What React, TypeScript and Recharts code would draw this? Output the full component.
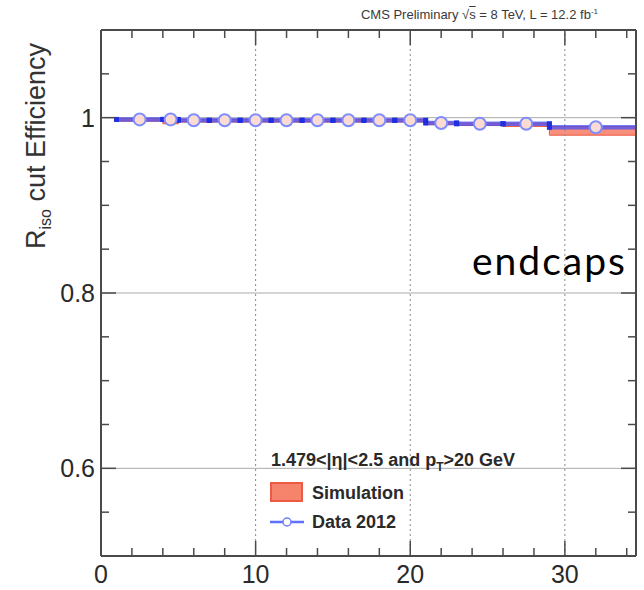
import React from "react";
import {
  ComposedChart,
  Line,
  Scatter,
  ErrorBar,
  XAxis,
  YAxis,
  ReferenceArea,
  ReferenceLine,
} from "recharts";

// bins in pT (GeV)
const binLow = [1, 4, 5, 7, 9, 11, 13, 15, 17, 19, 21, 23, 26, 29];
const binHigh = [4, 5, 7, 9, 11, 13, 15, 17, 19, 21, 23, 26, 29, 35];
const binCenter = [2.5, 4.5, 6, 8, 10, 12, 14, 16, 18, 20, 22, 24.5, 27.5, 32];

// Data 2012
const dataEff = [0.998, 0.998, 0.997, 0.997, 0.997, 0.997, 0.997, 0.997, 0.997, 0.997, 0.994, 0.993, 0.993, 0.989];
const dataErr = [0.001, 0.002, 0.001, 0.001, 0.001, 0.001, 0.001, 0.001, 0.001, 0.001, 0.002, 0.002, 0.002, 0.003];

// Simulation band
const simLo = [0.996, 0.993, 0.995, 0.995, 0.995, 0.995, 0.995, 0.995, 0.995, 0.995, 0.992, 0.991, 0.99, 0.98];
const simHi = [0.999, 0.997, 0.998, 0.998, 0.998, 0.998, 0.998, 0.998, 0.998, 0.998, 0.995, 0.994, 0.994, 0.99];

// axis ticks
const xMajorTicks = [0, 10, 20, 30];
const xTicks = [0, 2, 4, 6, 8, 10, 12, 14, 16, 18, 20, 22, 24, 26, 28, 30, 32, 34];
const yMajorTicks = [0.6, 0.8, 1];
const yTickLabels = ["0.6", "0.8", "1"];
const yTicks = [0.55, 0.6, 0.65, 0.7, 0.75, 0.8, 0.85, 0.9, 0.95, 1, 1.05];

const X_DOMAIN: [number, number] = [0, 34.6];
const Y_DOMAIN: [number, number] = [0.5, 1.1];

const FRAME = "#4a4a4a";
const TXT = "#2a2a2a";
const BLUE = "#3a4cff";
const SIM_FILL = "#f6836c";
const SIM_EDGE = "#ec5a45";
const SANS = '"Liberation Sans", Arial, Helvetica, sans-serif';

const lineData = binLow.flatMap((lo, i) => [
  { x: lo, y: dataEff[i], kind: "edge" },
  { x: binCenter[i], y: dataEff[i], kind: "center" },
  { x: binHigh[i], y: dataEff[i], kind: "edge" },
]);

const pointData = binCenter.map((x, i) => ({ x, y: dataEff[i], err: dataErr[i] }));

const isMajorY = (v: number) => yMajorTicks.findIndex((m) => Math.abs(m - v) < 1e-6);

const BottomTick = (props: any) => {
  const { x, y, payload } = props;
  const major = xMajorTicks.includes(payload.value);
  return (
    <g>
      {payload.value > 0 && (
        <line x1={x} y1={y} x2={x} y2={y - (major ? 15 : 8)} stroke={FRAME} strokeWidth={1.5} />
      )}
      {major && (
        <text x={x} y={y + 18} textAnchor="middle" dominantBaseline="central" fontSize={25} fontFamily={SANS} fill={TXT}>
          {payload.value}
        </text>
      )}
    </g>
  );
};

const TopTick = (props: any) => {
  const { x, y, payload } = props;
  if (payload.value <= 0) return <g />;
  const major = xMajorTicks.includes(payload.value);
  return <line x1={x} y1={y} x2={x} y2={y + (major ? 15 : 8)} stroke={FRAME} strokeWidth={1.5} />;
};

const LeftTick = (props: any) => {
  const { x, y, payload } = props;
  const m = isMajorY(payload.value);
  return (
    <g>
      <line x1={x} y1={y} x2={x + (m >= 0 ? 15 : 8)} y2={y} stroke={FRAME} strokeWidth={1.5} />
      {m >= 0 && (
        <text x={x - 6} y={y} textAnchor="end" dominantBaseline="central" fontSize={25} fontFamily={SANS} fill={TXT}>
          {yTickLabels[m]}
        </text>
      )}
    </g>
  );
};

const RightTick = (props: any) => {
  const { x, y, payload } = props;
  const m = isMajorY(payload.value);
  return <line x1={x} y1={y} x2={x - (m >= 0 ? 15 : 8)} y2={y} stroke={FRAME} strokeWidth={1.5} />;
};

const EdgeDot = (props: any) => {
  const { cx, cy, payload, index } = props;
  if (payload.kind !== "edge" || cx == null) return <g key={index} />;
  return <rect key={index} x={cx - 2.5} y={cy - 2.5} width={5} height={5} fill="#1f2fe0" />;
};

const OpenCircle = (props: any) => {
  const { cx, cy } = props;
  return <circle cx={cx} cy={cy} r={6} fill="#fcdcd2" stroke="#7d8dff" strokeWidth={2} />;
};

export default function App() {
  return (
    <div style={{ position: "absolute", left: 0, top: 0, width: 644, height: 590, background: "#fff", fontFamily: SANS }}>
      <ComposedChart width={644} height={590} margin={{ top: 29, right: 7, bottom: 0, left: 0 }}>
        <XAxis
          type="number"
          dataKey="x"
          domain={X_DOMAIN}
          allowDataOverflow
          ticks={xTicks}
          interval={0}
          height={34}
          tickSize={0}
          tickMargin={0}
          tick={<BottomTick />}
          axisLine={{ stroke: FRAME, strokeWidth: 2 }}
          tickLine={false}
        />
        <XAxis
          xAxisId="t"
          orientation="top"
          type="number"
          dataKey="x"
          domain={X_DOMAIN}
          allowDataOverflow
          ticks={xTicks}
          interval={0}
          height={1}
          tickSize={0}
          tickMargin={0}
          tick={<TopTick />}
          axisLine={{ stroke: FRAME, strokeWidth: 2 }}
          tickLine={false}
        />
        <YAxis
          type="number"
          domain={Y_DOMAIN}
          allowDataOverflow
          ticks={yTicks}
          interval={0}
          width={101}
          tickSize={0}
          tickMargin={0}
          tick={<LeftTick />}
          axisLine={{ stroke: FRAME, strokeWidth: 2 }}
          tickLine={false}
        />
        <YAxis
          yAxisId="r"
          orientation="right"
          type="number"
          domain={Y_DOMAIN}
          allowDataOverflow
          ticks={yTicks}
          interval={0}
          width={1}
          tickSize={0}
          tickMargin={0}
          tick={<RightTick />}
          axisLine={{ stroke: FRAME, strokeWidth: 2 }}
          tickLine={false}
        />

        {yMajorTicks.map((v) => (
          <ReferenceLine key={"gy" + v} y={v} stroke="#aaa" strokeWidth={1} />
        ))}
        {xMajorTicks.slice(1).map((v) => (
          <ReferenceLine key={"gx" + v} x={v} stroke="#888" strokeWidth={1} strokeDasharray="2 3" />
        ))}

        {binLow.map((lo, i) => (
          <ReferenceArea
            key={"sim" + i}
            x1={lo}
            x2={binHigh[i]}
            y1={simLo[i]}
            y2={simHi[i]}
            ifOverflow="hidden"
            fill={SIM_FILL}
            fillOpacity={0.9}
            stroke={SIM_EDGE}
            strokeWidth={1}
          />
        ))}

        {/* invisible copy so the mirrored top/right axes get drawn */}
        <Line
          xAxisId="t"
          yAxisId="r"
          data={lineData}
          dataKey="y"
          stroke="none"
          dot={false}
          activeDot={false}
          legendType="none"
          isAnimationActive={false}
        />
        <Line
          data={lineData}
          dataKey="y"
          type="linear"
          stroke={BLUE}
          strokeOpacity={0.7}
          strokeWidth={4.5}
          dot={<EdgeDot />}
          activeDot={false}
          isAnimationActive={false}
        />
        <Scatter data={pointData} dataKey="y" shape={<OpenCircle />} isAnimationActive={false}>
          <ErrorBar dataKey="err" direction="y" width={0} stroke={BLUE} strokeWidth={2} />
        </Scatter>
      </ComposedChart>

      {/* header */}
      <div style={{ position: "absolute", right: 46, top: 7, fontSize: 13, color: "#3a3a3a", whiteSpace: "nowrap" }}>
        CMS Preliminary √<span style={{ textDecoration: "overline" }}>s</span> = 8 TeV, L = 12.2 fb<sup style={{ fontSize: 8 }}>-1</sup>
      </div>

      {/* y title */}
      <div
        style={{
          position: "absolute",
          left: 38,
          top: 146,
          transform: "translate(-50%, -50%) rotate(-90deg)",
          whiteSpace: "nowrap",
          fontSize: 27,
          color: "#333",
        }}
      >
        R<sub style={{ fontSize: 16 }}>iso</sub> cut Efficiency
      </div>

      {/* region label */}
      <div
        style={{
          position: "absolute",
          left: 472,
          top: 241,
          fontSize: 39,
          lineHeight: 1,
          letterSpacing: 2,
          color: "#000",
          fontFamily: "Lato, sans-serif",
          whiteSpace: "nowrap",
        }}
      >
        endcaps
      </div>

      {/* legend */}
      <div style={{ position: "absolute", left: 271, top: 450, fontSize: 18, fontWeight: "bold", color: TXT, whiteSpace: "nowrap" }}>
        1.479&lt;|η|&lt;2.5 and p<sub style={{ fontSize: 12 }}>T</sub>&gt;20 GeV
      </div>
      <div style={{ position: "absolute", left: 270, top: 482, width: 33, height: 20, background: SIM_FILL, border: "2px solid " + SIM_EDGE, boxSizing: "border-box" }} />
      <div style={{ position: "absolute", left: 312, top: 482, fontSize: 18, fontWeight: "bold", color: TXT, whiteSpace: "nowrap", lineHeight: "22px" }}>
        Simulation
      </div>
      <svg style={{ position: "absolute", left: 268, top: 512 }} width={38} height={20}>
        <line x1={2} y1={10} x2={36} y2={10} stroke={BLUE} strokeWidth={2.5} strokeOpacity={0.8} />
        <circle cx={19} cy={10} r={4} fill="#fff" stroke="#6d7fff" strokeWidth={1.5} />
      </svg>
      <div style={{ position: "absolute", left: 312, top: 511, fontSize: 18, fontWeight: "bold", color: TXT, whiteSpace: "nowrap", lineHeight: "22px" }}>
        Data 2012
      </div>
    </div>
  );
}
